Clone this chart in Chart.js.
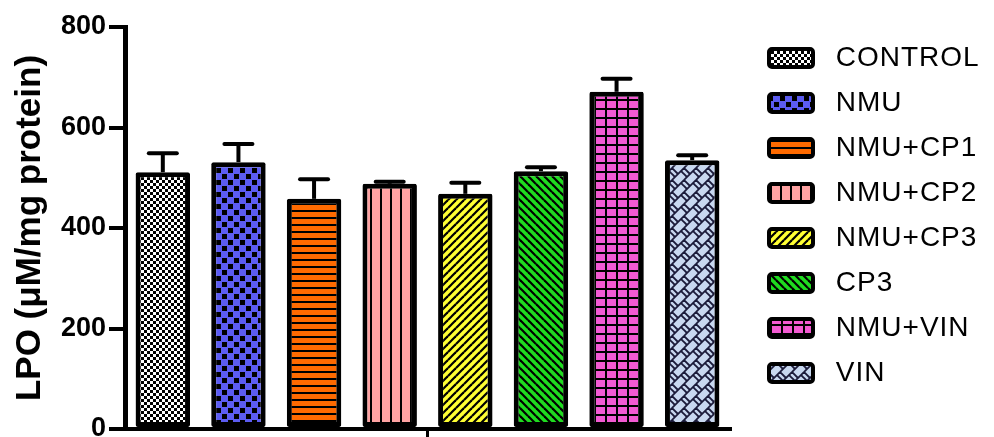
<!DOCTYPE html>
<html>
<head>
<meta charset="utf-8">
<script src="https://cdn.jsdelivr.net/npm/chart.js@4"></script>
<style>
  body { margin: 0; background: #fff; }
  #wrap { width: 994px; height: 437px; }
</style>
</head>
<body>
<div id="wrap"><canvas id="lpoChart" width="994" height="437"></canvas></div>
<script>
const groups = ['CONTROL', 'NMU', 'NMU+CP1', 'NMU+CP2', 'NMU+CP3', 'CP3', 'NMU+VIN', 'VIN'];
const lpoMean = [511, 531, 458, 488, 468, 513, 671, 535];
const lpoError = [38, 36, 39, 4, 22, 8, 26, 10];
const yTicks = [0, 200, 400, 600, 800];

const FONT = "'Liberation Sans', Arial, sans-serif";

function line(g, x1, y1, x2, y2) {
    g.beginPath();
    g.moveTo(x1, y1);
    g.lineTo(x2, y2);
    g.stroke();
}

// small repeating tile -> canvas pattern
function tile(w, h, bg, fg, lw, draw) {
    const c = document.createElement('canvas');
    c.width = w;
    c.height = h;
    const g = c.getContext('2d');
    g.fillStyle = bg;
    g.fillRect(0, 0, w, h);
    g.strokeStyle = fg;
    g.fillStyle = fg;
    g.lineWidth = lw || 1;
    for (const dx of [-w, 0, w]) {
        for (const dy of [-h, 0, h]) {
            g.save();
            g.translate(dx, dy);
            draw(g, w, h);
            g.restore();
        }
    }
    return g.createPattern(c, 'repeat');
}

const fills = [
    tile(6, 6, '#ffffff', '#000', 0, g => { g.fillRect(0, 0, 3, 3); g.fillRect(3, 3, 3, 3); }),
    tile(12, 12, '#5c5cf2', '#000', 0, g => { g.fillRect(0, 0, 5, 5); g.fillRect(6, 6, 5, 5); }),
    tile(8, 7, '#ff6a00', '#000', 0, g => g.fillRect(0, 0, 8, 2)),
    tile(10, 8, '#ffa3a3', '#000', 0, g => g.fillRect(0, 0, 2, 8)),
    tile(8, 8, '#ffff33', '#000', 2.2, g => line(g, 0, 8, 8, 0)),
    tile(8, 8, '#1fdc1f', '#000', 2.2, g => line(g, 0, 0, 8, 8)),
    tile(11, 9, '#f25ad2', '#000', 0, g => { g.fillRect(0, 0, 11, 2); g.fillRect(0, 0, 2, 9); }),
    tile(12, 12, '#c8d8f0', '#1b1b3a', 1.8, g => {
        line(g, 0, 12, 12, 0);
        line(g, 0, 0, 6, 6);
        line(g, 9, 3, 15, 9);
    })
];

// upward error bars, positioned with the y scale
const errorBars = {
    id: 'errorBars',
    afterDatasetsDraw(chart) {
        const ctx = chart.ctx;
        const y = chart.scales.y;
        const bars = chart.getDatasetMeta(0).data;
        ctx.save();
        ctx.strokeStyle = '#000';
        ctx.lineWidth = 4;
        bars.forEach((bar, i) => {
            const top = y.getPixelForValue(lpoMean[i] + lpoError[i]);
            ctx.lineCap = 'butt';
            line(ctx, bar.x, bar.y, bar.x, top);
            ctx.lineCap = 'round';
            line(ctx, bar.x - 14, top, bar.x + 14, top);
        });
        ctx.restore();
    }
};

// a little letter spacing + fixed width for the legend
const legendTweak = {
    id: 'legendTweak',
    beforeLayout(chart) {
        const lg = chart.legend;
        if (!lg || lg._tweaked) return;
        lg._tweaked = true;
        const fit = lg.fit.bind(lg);
        const draw = lg.draw.bind(lg);
        lg.fit = function () {
            chart.ctx.letterSpacing = '1px';
            fit();
            chart.ctx.letterSpacing = '0px';
            this.width = 242;
        };
        lg.draw = function () {
            chart.ctx.letterSpacing = '1px';
            draw();
            chart.ctx.letterSpacing = '0px';
        };
    }
};

new Chart(document.getElementById('lpoChart'), {
    type: 'bar',
    data: {
        labels: groups,
        datasets: [{
            data: lpoMean,
            backgroundColor: fills,
            borderColor: '#000',
            borderWidth: 5,
            borderSkipped: false,
            borderRadius: 2,
            barPercentage: 0.72,
            categoryPercentage: 1
        }]
    },
    options: {
        responsive: false,
        animation: false,
        layout: { padding: { top: 27, left: 0, right: 0, bottom: 0 } },
        plugins: {
            tooltip: { enabled: false },
            legend: {
                position: 'right',
                align: 'start',
                labels: {
                    boxWidth: 44,
                    boxHeight: 18,
                    padding: 17,
                    color: '#000',
                    font: { family: FONT, size: 28 },
                    generateLabels: chart => chart.data.labels.map((label, i) => ({
                        text: ' ' + label,
                        fillStyle: fills[i],
                        strokeStyle: '#000',
                        lineWidth: 4,
                        borderRadius: 3,
                        hidden: false,
                        index: i
                    }))
                }
            }
        },
        scales: {
            x: {
                offset: true,
                grid: {
                    offset: true,
                    drawOnChartArea: false,
                    tickLength: 10,
                    lineWidth: 3,
                    color: ctx => ctx.index === 4 ? '#000' : 'rgba(0,0,0,0)'
                },
                border: { color: '#000', width: 4 },
                ticks: { display: false },
                afterFit: s => { s.height = 8; }
            },
            y: {
                min: 0,
                max: 800,
                afterBuildTicks: s => { s.ticks = yTicks.map(v => ({ value: v })); },
                grid: {
                    drawOnChartArea: false,
                    tickLength: 16,
                    lineWidth: 4,
                    color: '#000'
                },
                border: { color: '#000', width: 5 },
                ticks: {
                    color: '#000',
                    padding: 3,
                    font: { family: FONT, size: 27, weight: 'bold' }
                },
                title: {
                    display: true,
                    text: 'LPO (μM/mg protein)',
                    color: '#000',
                    padding: { top: 9, bottom: 0 },
                    font: { family: FONT, size: 35, weight: 'bold' }
                },
                afterFit: s => {
                    s.width = 125;
                    s.paddingTop = 0;
                    s.paddingBottom = 0;
                }
            },
            gap: {
                type: 'linear',
                position: 'right',
                grid: { display: false },
                border: { display: false },
                ticks: { display: false },
                afterFit: s => { s.width = 22; }
            }
        }
    },
    plugins: [errorBars, legendTweak]
});
</script>
</body>
</html>
